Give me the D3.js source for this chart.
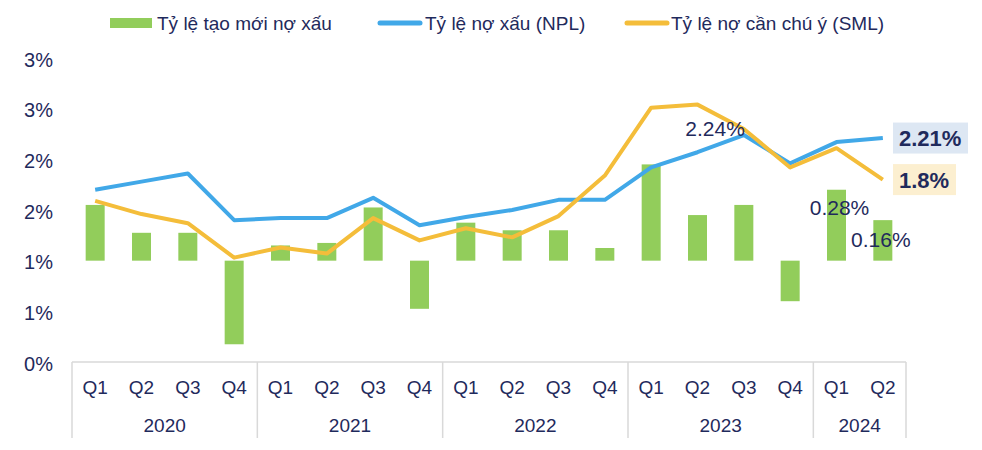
<!DOCTYPE html>
<html>
<head>
<meta charset="utf-8">
<script src="https://cdn.jsdelivr.net/npm/d3@7"></script>
<style>
  html, body { margin: 0; padding: 0; background: #ffffff; }
  svg { display: block; font-family: "Liberation Sans", Arial, sans-serif; }
</style>
</head>
<body>
<svg id="chart" width="982" height="450"></svg>
<script>
// ---- Data ----
const years = ["2020", "2021", "2022", "2023", "2024"];
const quarters = ["Q1","Q2","Q3","Q4","Q1","Q2","Q3","Q4","Q1","Q2","Q3","Q4","Q1","Q2","Q3","Q4","Q1","Q2"];
const yearOfQuarter = ["2020","2020","2020","2020","2021","2021","2021","2021","2022","2022","2022","2022","2023","2023","2023","2023","2024","2024"];
// Tỷ lệ tạo mới nợ xấu (%), secondary scale
const newNplRate = [0.22, 0.11, 0.11, -0.33, 0.06, 0.07, 0.21, -0.19, 0.15, 0.12, 0.12, 0.05, 0.38, 0.18, 0.22, -0.16, 0.28, 0.16];
// Tỷ lệ nợ xấu (NPL) (%)
const nplRate = [1.70, 1.78, 1.86, 1.40, 1.42, 1.42, 1.62, 1.35, 1.43, 1.50, 1.60, 1.60, 1.92, 2.07, 2.24, 1.96, 2.17, 2.21];
// Tỷ lệ nợ cần chú ý (SML) (%)
const smlRate = [1.59, 1.46, 1.37, 1.03, 1.13, 1.07, 1.42, 1.20, 1.32, 1.23, 1.44, 1.84, 2.51, 2.54, 2.30, 1.92, 2.11, 1.80];
const yTickValues = [0, 0.5, 1, 1.5, 2, 2.5, 3];
const yTickLabels = ["0%", "1%", "1%", "2%", "2%", "3%", "3%"];
const legendLabels = ["Tỷ lệ tạo mới nợ xấu", "Tỷ lệ nợ xấu (NPL)", "Tỷ lệ nợ cần chú ý (SML)"];

// ---- Styles ----
const C_GREEN = "#92CD5B", C_BLUE = "#41A8E8", C_ORANGE = "#F4BD3A", C_TEXT = "#1F2A5C", C_GRID = "#D9D9D9";

const svg = d3.select("#chart");
const pLeft = 72, pRight = 906, pTop = 58, pBottom = 362;
const idx = d3.range(quarters.length);

const x = d3.scaleBand().domain(idx).range([pLeft, pRight]).paddingInner(0.59).paddingOuter(0.295);
const xc = i => x(i) + x.bandwidth() / 2;
const y = d3.scaleLinear().domain([0, 3]).range([pBottom, pTop]);
const y2 = d3.scaleLinear().domain([-0.4, 0.8]).range([pBottom, pTop]);

// Y axis (labels only)
const yAxis = d3.axisLeft(y).tickValues(yTickValues)
  .tickFormat((d, i) => yTickLabels[i]).tickSize(0).tickPadding(0);
const gy = svg.append("g").attr("transform", `translate(${53},0)`).call(yAxis);
gy.select(".domain").remove();
gy.selectAll("text").attr("fill", C_TEXT).attr("font-size", 20).attr("dy", "0.4em")
  .attr("font-family", "'Liberation Sans', Arial, sans-serif");

// Bars
svg.append("g").selectAll("rect").data(idx).join("rect")
  .attr("x", i => x(i))
  .attr("width", x.bandwidth())
  .attr("y", i => Math.min(y2(newNplRate[i]), y2(0)))
  .attr("height", i => Math.abs(y2(newNplRate[i]) - y2(0)))
  .attr("fill", C_GREEN);

// Lines
const line = arr => d3.line().x(i => xc(i)).y(i => y(arr[i]))(idx);
svg.append("path").attr("d", line(nplRate)).attr("fill", "none")
  .attr("stroke", C_BLUE).attr("stroke-width", 4).attr("stroke-linejoin", "round");
svg.append("path").attr("d", line(smlRate)).attr("fill", "none")
  .attr("stroke", C_ORANGE).attr("stroke-width", 4).attr("stroke-linejoin", "round");

// Category axis (two-level)
const gx = svg.append("g");
gx.append("line").attr("x1", pLeft).attr("x2", pRight).attr("y1", pBottom).attr("y2", pBottom)
  .attr("stroke", C_GRID).attr("stroke-width", 1.5);
const yearBounds = years.map(yr => {
  const ii = idx.filter(i => yearOfQuarter[i] === yr);
  const step = x.step();
  const x0 = xc(ii[0]) - step / 2, x1 = xc(ii[ii.length - 1]) + step / 2;
  return {yr, x0, x1};
});
const seps = [pLeft].concat(yearBounds.map(b => b.x1));
gx.selectAll("line.sep").data(seps).join("line").attr("class", "sep")
  .attr("x1", d => d).attr("x2", d => d).attr("y1", pBottom).attr("y2", 438)
  .attr("stroke", C_GRID).attr("stroke-width", 1.5);
gx.selectAll("text.q").data(idx).join("text").attr("class", "q")
  .attr("x", i => xc(i)).attr("y", 394).attr("text-anchor", "middle")
  .attr("font-size", 19).attr("fill", C_TEXT).text(i => quarters[i]);
gx.selectAll("text.yr").data(yearBounds).join("text").attr("class", "yr")
  .attr("x", d => (d.x0 + d.x1) / 2).attr("y", 432).attr("text-anchor", "middle")
  .attr("font-size", 19).attr("fill", C_TEXT).text(d => d.yr);

// Data labels
const n = idx.length;
svg.append("text").attr("x", xc(14) + 1).attr("y", y(nplRate[14]) + 1)
  .attr("text-anchor", "end").attr("font-size", 21).attr("fill", C_TEXT).text("2.24%");
svg.append("text").attr("x", xc(16) + 3).attr("y", y2(newNplRate[16]) + 25)
  .attr("text-anchor", "middle").attr("font-size", 21).attr("fill", C_TEXT).text("0.28%");
svg.append("text").attr("x", xc(17) - 2).attr("y", y2(newNplRate[17]) + 27)
  .attr("text-anchor", "middle").attr("font-size", 21).attr("fill", C_TEXT).text("0.16%");

// End labels with boxes
function endLabel(val, txt, fill, w) {
  const cy = y(val);
  svg.append("rect").attr("x", 893).attr("y", cy - 15.5).attr("width", w).attr("height", 31).attr("fill", fill);
  svg.append("text").attr("x", 899).attr("y", cy + 8).attr("font-size", 22).attr("font-weight", "bold")
    .attr("fill", C_TEXT).text(txt);
}
endLabel(nplRate[n - 1], "2.21%", "#DDE7F3", 75);
endLabel(smlRate[n - 1], "1.8%", "#FCEFD0", 63);

// Legend
const lg = svg.append("g").attr("font-size", 19).attr("fill", C_TEXT);
lg.append("rect").attr("x", 110).attr("y", 18).attr("width", 42).attr("height", 10).attr("fill", C_GREEN);
lg.append("text").attr("x", 157).attr("y", 30).attr("fill", C_TEXT).text(legendLabels[0]);
lg.append("line").attr("x1", 380).attr("x2", 420).attr("y1", 23).attr("y2", 23)
  .attr("stroke", C_BLUE).attr("stroke-width", 5).attr("stroke-linecap", "round");
lg.append("text").attr("x", 425).attr("y", 30).attr("fill", C_TEXT).text(legendLabels[1]);
lg.append("line").attr("x1", 627).attr("x2", 667).attr("y1", 23).attr("y2", 23)
  .attr("stroke", C_ORANGE).attr("stroke-width", 5).attr("stroke-linecap", "round");
lg.append("text").attr("x", 671).attr("y", 30).attr("fill", C_TEXT).text(legendLabels[2]);
</script>
</body>
</html>
